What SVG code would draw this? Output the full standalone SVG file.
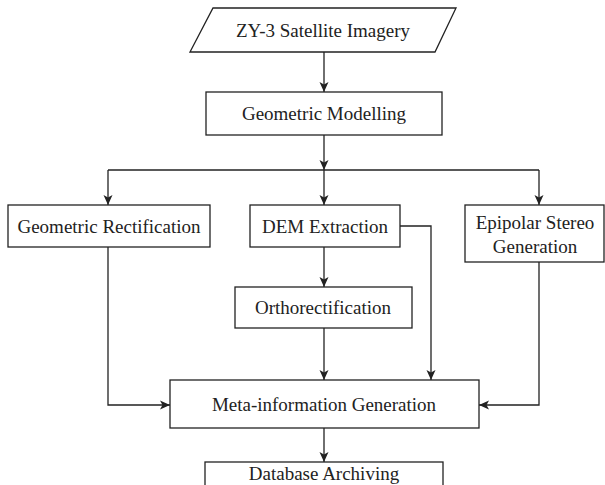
<svg xmlns="http://www.w3.org/2000/svg" width="605" height="485" viewBox="0 0 605 485">
<style>
.box{fill:#fff;stroke:#222;stroke-width:1.3}
.t{font-family:"Liberation Serif","Times New Roman",serif;font-size:19px;fill:#222;text-anchor:middle;dominant-baseline:central}
.c{fill:none;stroke:#222;stroke-width:1.3}
</style>
<defs>
<marker id="a" viewBox="0 0 10 10" refX="10" refY="5" markerWidth="10" markerHeight="10" markerUnits="userSpaceOnUse" orient="auto">
<path d="M0,0.5 L10,5 L0,9.5 L2.5,5 Z" fill="#222"/>
</marker>
</defs>
<rect width="605" height="485" fill="#fff"/>
<g id="connectors">
<path class="c" d="M324,52 V92" marker-end="url(#a)"/>
<path class="c" d="M324,135 V170" marker-end="url(#a)"/>
<path class="c" d="M108,170 H539"/>
<path class="c" d="M108,170 V205" marker-end="url(#a)"/>
<path class="c" d="M324,170 V205" marker-end="url(#a)"/>
<path class="c" d="M539,170 V205" marker-end="url(#a)"/>
<path class="c" d="M324,247 V287" marker-end="url(#a)"/>
<path class="c" d="M400,226 H431 V380" marker-end="url(#a)"/>
<path class="c" d="M324,328 V380" marker-end="url(#a)"/>
<path class="c" d="M108,247 V405 H170" marker-end="url(#a)"/>
<path class="c" d="M539,262 V405 H479" marker-end="url(#a)"/>
<path class="c" d="M324,428 V462" marker-end="url(#a)"/>
</g>
<g id="imagery">
<polygon class="box" points="213,8 456,8 435,52 190,52"/>
<text class="t" x="323" y="30">ZY-3 Satellite Imagery</text>
</g>
<g id="modelling">
<rect class="box" x="206" y="92" width="236" height="43"/>
<text class="t" x="324" y="113.5">Geometric Modelling</text>
</g>
<g id="rectification">
<rect class="box" x="8" y="205" width="202" height="42"/>
<text class="t" x="109" y="226">Geometric Rectification</text>
</g>
<g id="dem">
<rect class="box" x="250" y="205" width="150" height="42"/>
<text class="t" x="325" y="226">DEM Extraction</text>
</g>
<g id="epipolar">
<rect class="box" x="465" y="205" width="139" height="57"/>
<text class="t" x="535" y="222">Epipolar Stereo</text>
<text class="t" x="535" y="246">Generation</text>
</g>
<g id="ortho">
<rect class="box" x="235" y="287" width="177" height="41"/>
<text class="t" x="323" y="307.5">Orthorectification</text>
</g>
<g id="meta">
<rect class="box" x="170" y="380" width="309" height="48"/>
<text class="t" x="324" y="404">Meta-information Generation</text>
</g>
<g id="database">
<rect class="box" x="205" y="462" width="238" height="34"/>
<text class="t" x="324" y="473">Database Archiving</text>
</g>
</svg>
